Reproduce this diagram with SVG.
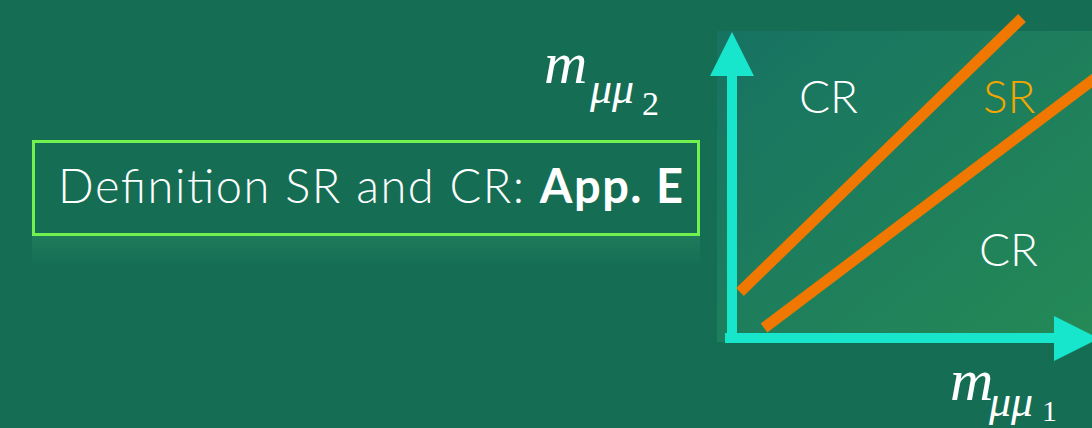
<svg xmlns="http://www.w3.org/2000/svg" width="1092" height="428" viewBox="0 0 1092 428">
<defs>
<linearGradient id="panel" x1="0" y1="0" x2="1" y2="1">
<stop offset="0" stop-color="#177262"/>
<stop offset="1" stop-color="#248a56"/>
</linearGradient>
<linearGradient id="refl" x1="0" y1="0" x2="0" y2="1">
<stop offset="0" stop-color="#2a8a62" stop-opacity="0.45"/>
<stop offset="1" stop-color="#2a8a62" stop-opacity="0"/>
</linearGradient>
<style>
.lbl{font-family:Lato,"Open Sans",sans-serif;font-weight:300;fill:#ffffff}
.math{font-family:"Liberation Serif",serif;font-style:italic;fill:#ffffff}
.up{font-style:normal}
.axis{fill:#18e6cc}
.cut{stroke:#f07800;stroke-width:11;fill:none}
</style>
</defs>
<rect width="1092" height="428" fill="#156e54"/>
<g id="definition-box">
<rect x="32" y="236" width="668" height="30" fill="url(#refl)"/>
<rect x="33.5" y="141.5" width="665" height="93" fill="none" stroke="#72f24e" stroke-width="3"/>
<text class="lbl" x="58" y="203" font-size="47" textLength="625" lengthAdjust="spacing">Definition SR and CR: <tspan font-weight="700">App. E</tspan></text>
</g>
<g id="plot">
<rect x="717" y="31" width="375" height="311" fill="url(#panel)"/>
<g id="axes">
<rect class="axis" x="727" y="74" width="10" height="269"/>
<polygon class="axis" points="732,32 754,76 710,76"/>
<rect class="axis" x="725" y="333" width="332" height="10"/>
<polygon class="axis" points="1054,316 1099,338.5 1054,361"/>
</g>
<g id="cuts">
<line class="cut" x1="740" y1="292" x2="1022" y2="18"/>
<line class="cut" x1="764" y1="328" x2="1098" y2="76"/>
</g>
<text class="lbl" x="799" y="113" font-size="46">CR</text>
<text class="lbl" x="983" y="113" font-size="46" style="fill:#f3a500">SR</text>
<text class="lbl" x="979" y="266" font-size="46">CR</text>
</g>
<g id="label-y">
<text class="math" x="544" y="83" font-size="60">m</text>
<text class="math" x="590" y="103" font-size="44">μμ</text>
<text class="math up" x="642" y="115" font-size="34">2</text>
</g>
<g id="label-x">
<text class="math" x="950" y="400" font-size="60">m</text>
<text class="math" x="989" y="416" font-size="44">μμ</text>
<text class="math up" x="1042" y="421" font-size="30">1</text>
</g>
</svg>
